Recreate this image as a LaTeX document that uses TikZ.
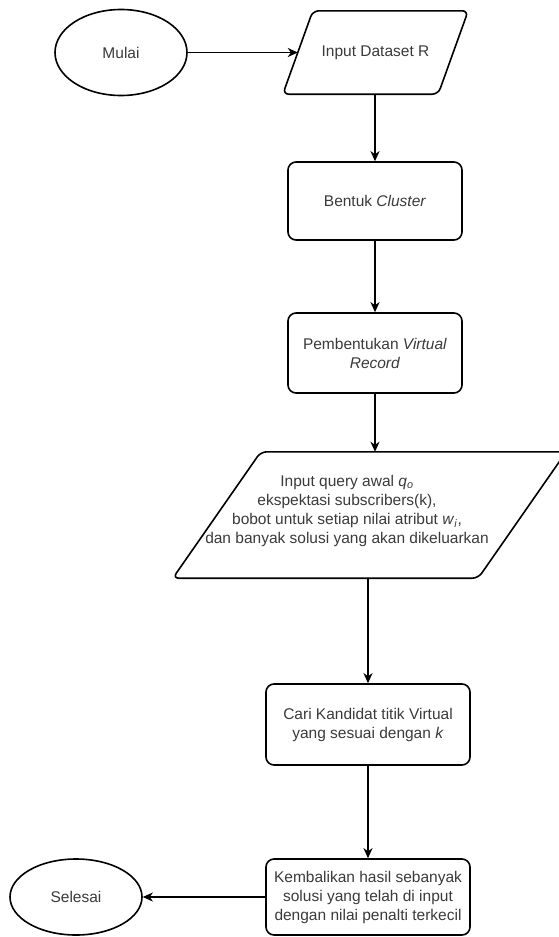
\documentclass[tikz,border=0pt]{standalone}
\usepackage{fontspec}
\setmainfont{Liberation Sans}
\usetikzlibrary{shapes.geometric, arrows.meta, calc}
\definecolor{ink}{HTML}{3A3A3A}

\begin{document}
\begin{tikzpicture}[x=1bp, y=-1bp,
  every node/.style={font=\fontsize{15.5bp}{19bp}\selectfont, text=ink},
  procbox/.style={rectangle, draw=black, line width=1.6bp, rounded corners=8bp,
    align=center, inner sep=2bp},
  terminal/.style={ellipse, draw=black, line width=1.6bp, inner sep=0pt},
  pframe/.style={rectangle, inner sep=0pt, align=center},
  pline/.style={draw=black, line width=1.6bp, rounded corners=6bp, line join=round},
  link/.style={draw=black, line width=1.6bp,
    -{Stealth[length=10bp, width=9bp, inset=3bp]}}]

\path[use as bounding box, clip] (0,0) rectangle (559,937);

% start terminal
\node[terminal, minimum width=132bp, minimum height=86bp] (mulai) at (121,52.5) {Mulai};

% data input (parallelogram drawn round an invisible frame)
\node[pframe, minimum width=185bp, minimum height=83bp] (input) at (375.5,52.5) {Input Dataset R};
\draw[pline] ([xshift=30bp]input.north west) -- (input.north east)
  -- ([xshift=-30bp]input.south east) -- (input.south west) -- cycle;
\coordinate (inputleft) at ($(input.south west)!0.5!([xshift=30bp]input.north west)$);

% processing steps
\node[procbox, minimum width=174bp, minimum height=78bp] (bentuk) at (375,201) {Bentuk \textit{Cluster}};
\node[procbox, minimum width=174bp, minimum height=80bp] (virt) at (375,353)
  {Pembentukan \textit{Virtual}\\\textit{Record}};

% query input (parallelogram)
\node[pframe, minimum width=393bp, minimum height=126bp] (query) at (369.5,515) {};
\draw[pline] ([xshift=88bp]query.north west) -- (query.north east)
  -- ([xshift=-88bp]query.south east) -- (query.south west) -- cycle;
\node[align=center, inner sep=0pt] (qtext) at (347,511)
  {Input query awal \textit{q}\textsubscript{\textit{o}}\\
   ekspektasi subscribers(k),\\
   bobot untuk setiap nilai atribut \textit{w}\textsubscript{\textit{i}},\\
   dan banyak solusi yang akan dikeluarkan};

\node[procbox, minimum width=204bp, minimum height=81bp] (cari) at (368,724.5)
  {Cari Kandidat titik Virtual\\yang sesuai dengan \textit{k}};
\node[procbox, minimum width=204bp, minimum height=76bp] (hasil) at (368,897)
  {Kembalikan hasil sebanyak\\solusi yang telah di input\\dengan nilai penalti terkecil};

% end terminal
\node[terminal, minimum width=132bp, minimum height=76bp] (selesai) at (76,897) {Selesai};

% connectors
\draw[link] (mulai.east) -- (inputleft);
\draw[link] (input.south -| bentuk.north) -- (bentuk.north);
\draw[link] (bentuk.south) -- (virt.north);
\draw[link] (virt.south) -- (virt.south |- query.north);
\draw[link] (query.south -| cari.north) -- (cari.north);
\draw[link] (cari.south) -- (hasil.north);
\draw[link] (hasil.west) -- (selesai.east);
\end{tikzpicture}
\end{document}
